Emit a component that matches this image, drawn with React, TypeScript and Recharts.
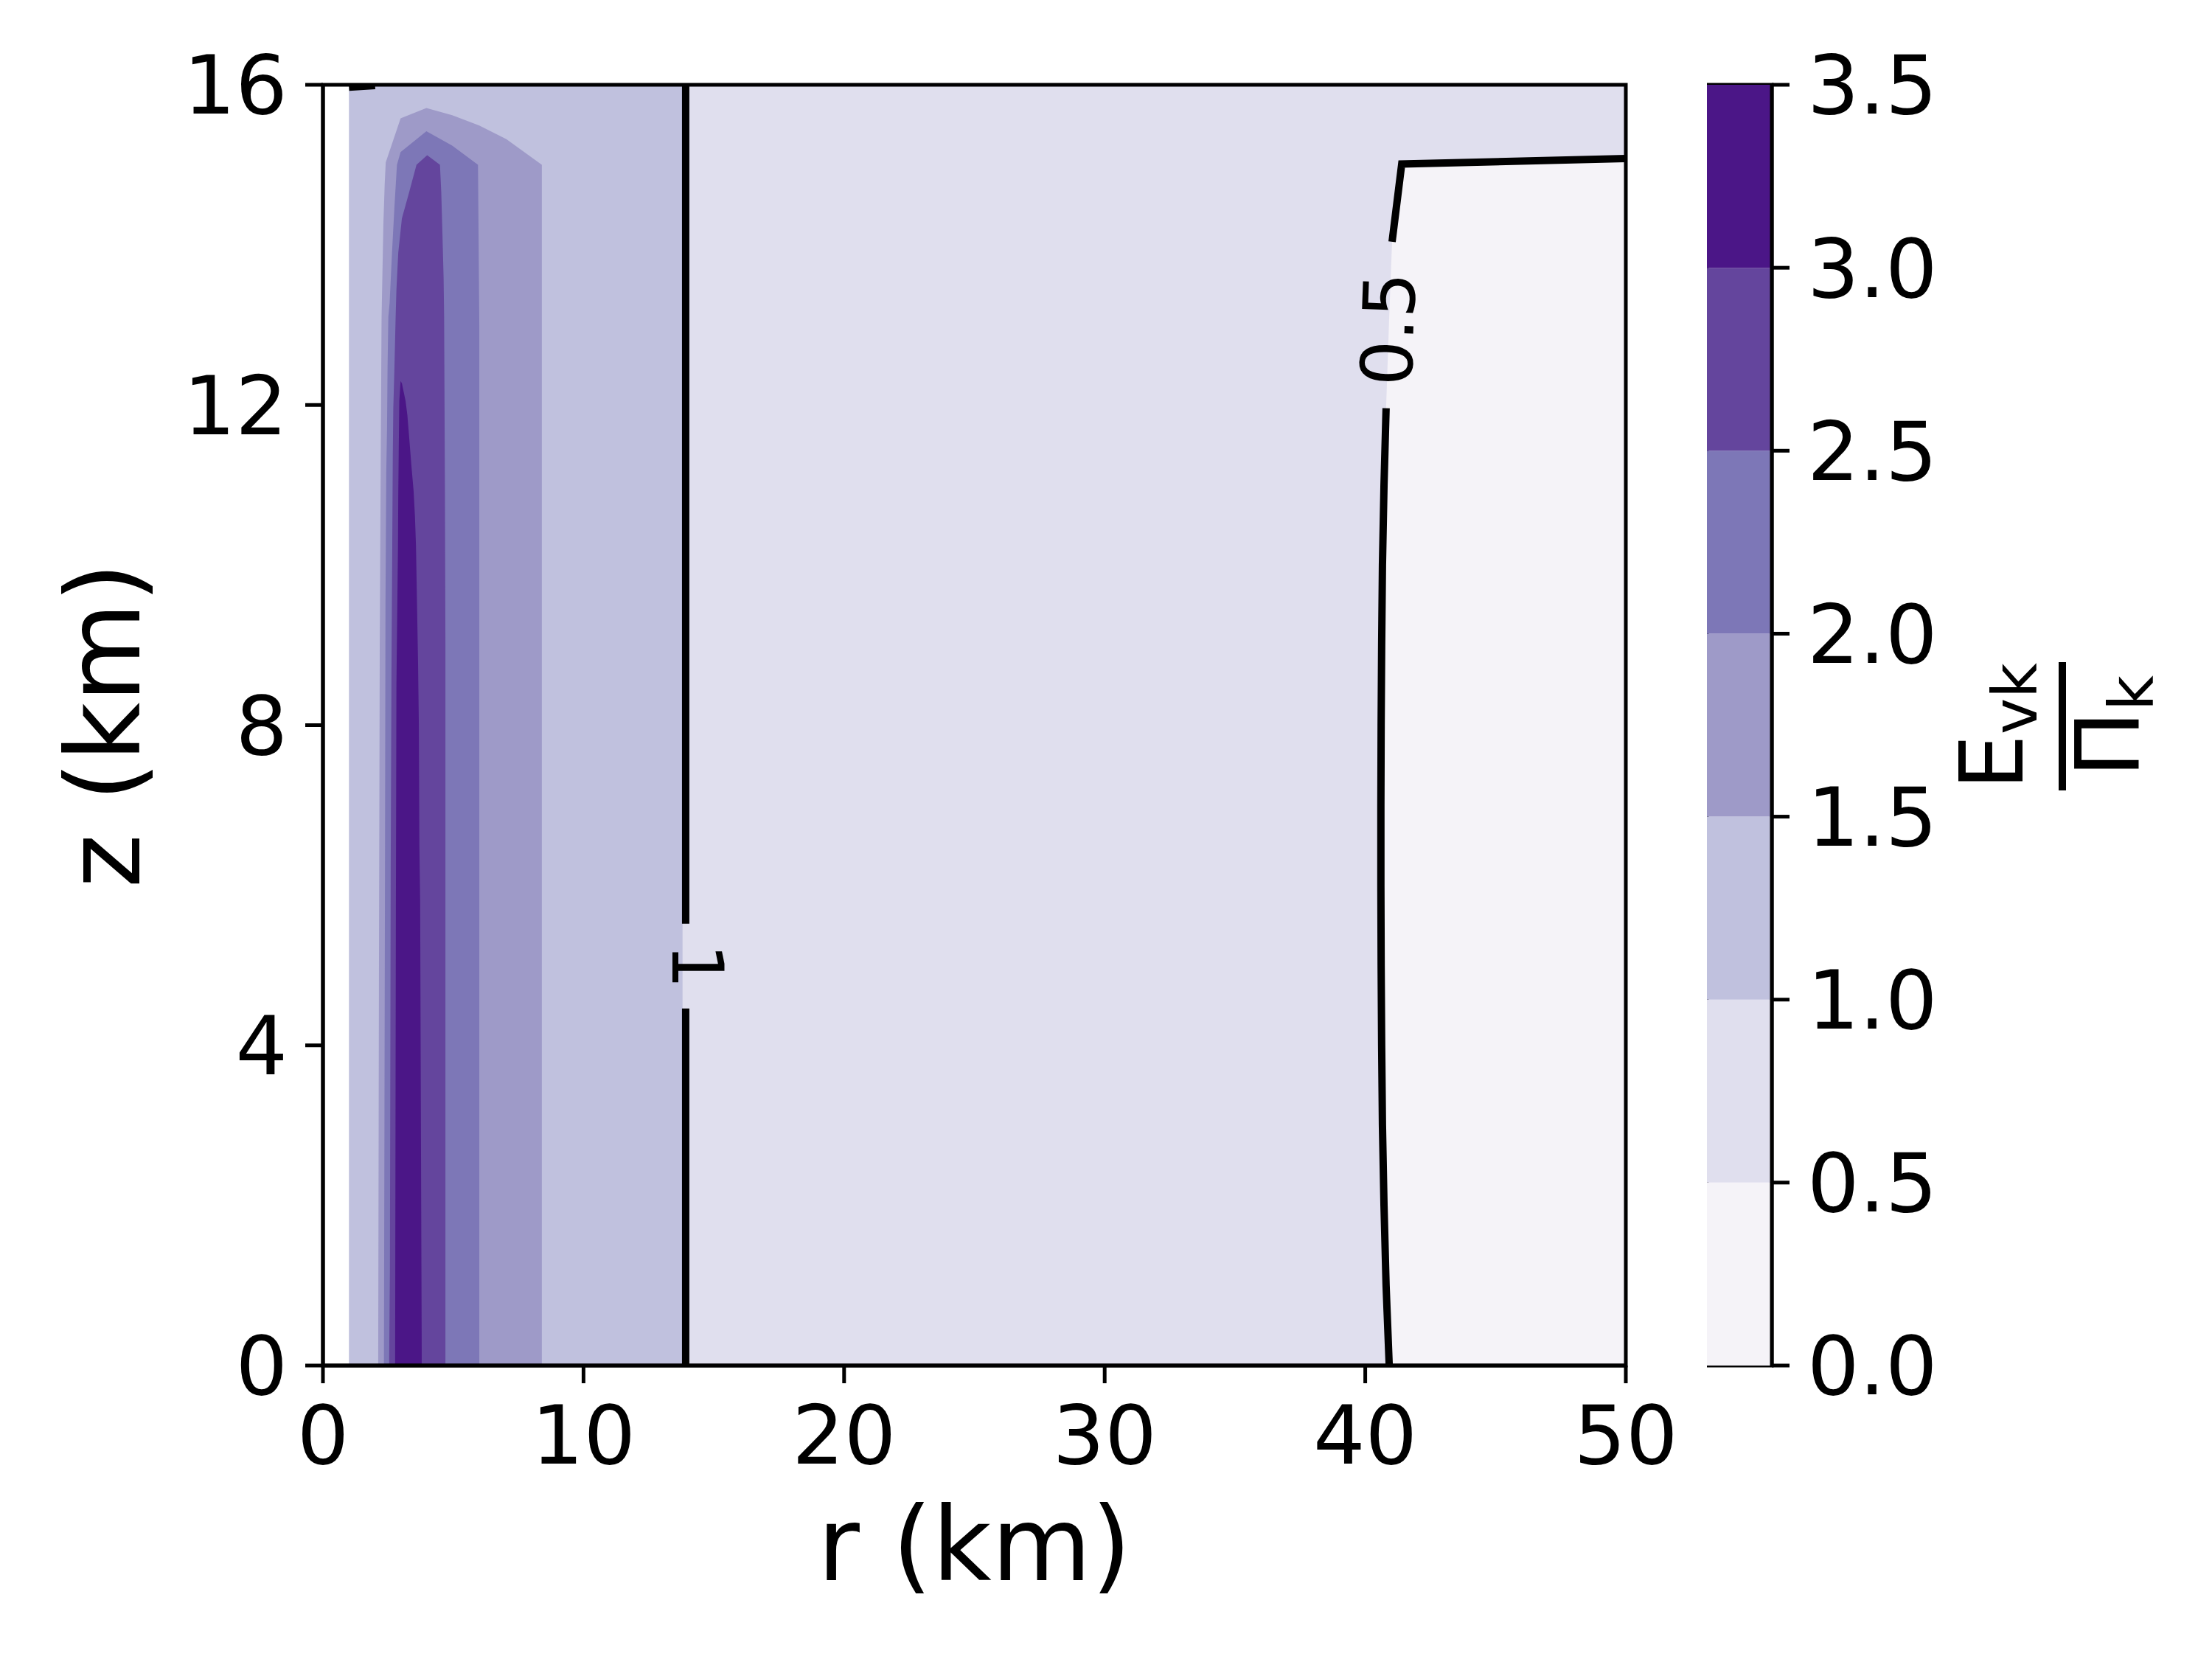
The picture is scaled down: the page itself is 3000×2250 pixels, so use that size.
import React from "react";
import {
  ComposedChart,
  BarChart,
  Area,
  Line,
  Bar,
  XAxis,
  YAxis,
  ReferenceArea,
  ReferenceDot,
} from "recharts";

const FONT = "DejaVu Sans";

const R_TICKS = [0, 10, 20, 30, 40, 50];
const Z_TICKS = [0, 4, 8, 12, 16];
const LEVELS = [0, 0.5, 1, 1.5, 2, 2.5, 3, 3.5];
const LEVEL_COLORS = ["#f5f3f8", "#e0dfee", "#c0c1de", "#9e9ac8", "#7d77b7", "#64459d", "#4b1687"];

// filled contour regions, outline of "value >= level" as z(r)
const FILL_GE_05 = [
  { r: 1, z: 16 },
  { r: 50, z: 16 },
];
// value < 0.5, given as z-range per r
const FILL_LT_05 = [
  { r: 40.6, z: [6, 7] },
  { r: 40.61, z: [5, 8] },
  { r: 40.63, z: [4, 9] },
  { r: 40.66, z: [3, 10] },
  { r: 40.72, z: [2, 11] },
  { r: 40.8, z: [1, 11.96] },
  { r: 40.92, z: [0, 13.1] },
  { r: 41.03, z: [0, 14.04] },
  { r: 41.4, z: [0, 15.01] },
  { r: 50, z: [0, 15.08] },
];
const FILL_GE_10 = [
  { r: 1, z: 16 },
  { r: 13.8, z: 16 },
];
const FILL_GE_15 = [
  { r: 2.12, z: 0 }, { r: 2.15, z: 5 }, { r: 2.18, z: 9 }, { r: 2.22, z: 11.5 },
  { r: 2.25, z: 13.1 }, { r: 2.28, z: 13.6 }, { r: 2.32, z: 14.27 }, { r: 2.37, z: 14.76 },
  { r: 2.41, z: 15.03 }, { r: 2.98, z: 15.58 }, { r: 3.97, z: 15.71 }, { r: 4.96, z: 15.62 },
  { r: 6.0, z: 15.49 }, { r: 7.04, z: 15.32 }, { r: 8.4, z: 15.0 }, { r: 8.4, z: 0 },
];
const FILL_GE_20 = [
  { r: 2.34, z: 0 }, { r: 2.38, z: 6 }, { r: 2.4, z: 9.5 }, { r: 2.43, z: 11.16 },
  { r: 2.46, z: 11.72 }, { r: 2.48, z: 12.48 }, { r: 2.51, z: 13.1 }, { r: 2.56, z: 13.28 },
  { r: 2.65, z: 13.9 }, { r: 2.75, z: 14.51 }, { r: 2.84, z: 15.0 }, { r: 2.98, z: 15.16 },
  { r: 3.97, z: 15.42 }, { r: 4.96, z: 15.24 }, { r: 5.95, z: 15.0 }, { r: 6.0, z: 13 },
  { r: 6.0, z: 0 },
];
const FILL_GE_25 = [
  { r: 2.54, z: 0 }, { r: 2.57, z: 1.2 }, { r: 2.6, z: 6.2 }, { r: 2.63, z: 8.7 },
  { r: 2.66, z: 10.24 }, { r: 2.68, z: 11.35 }, { r: 2.7, z: 11.96 }, { r: 2.74, z: 12.42 },
  { r: 2.79, z: 13.1 }, { r: 2.82, z: 13.44 }, { r: 2.89, z: 13.9 }, { r: 3.03, z: 14.33 },
  { r: 3.31, z: 14.66 }, { r: 3.59, z: 15.0 }, { r: 4.0, z: 15.12 }, { r: 4.49, z: 15.0 },
  { r: 4.54, z: 14.66 }, { r: 4.58, z: 14.2 }, { r: 4.63, z: 13.59 }, { r: 4.65, z: 13.1 },
  { r: 4.68, z: 11 }, { r: 4.7, z: 9 }, { r: 4.7, z: 0 },
];
const FILL_GE_30 = [
  { r: 2.77, z: 0 }, { r: 2.79, z: 4 }, { r: 2.8, z: 5.8 }, { r: 2.82, z: 8.5 },
  { r: 2.88, z: 10.24 }, { r: 2.89, z: 10.86 }, { r: 2.91, z: 11.47 }, { r: 2.93, z: 12.05 },
  { r: 2.98, z: 12.3 }, { r: 3.03, z: 12.27 }, { r: 3.17, z: 12.05 }, { r: 3.24, z: 11.87 },
  { r: 3.31, z: 11.59 }, { r: 3.4, z: 11.22 }, { r: 3.48, z: 10.92 }, { r: 3.53, z: 10.61 },
  { r: 3.57, z: 10.24 }, { r: 3.65, z: 8.77 }, { r: 3.68, z: 8.0 }, { r: 3.7, z: 6.5 },
  { r: 3.73, z: 5.8 }, { r: 3.77, z: 2 }, { r: 3.79, z: 0.2 }, { r: 3.79, z: 0 },
];

// contour lines (null = gap for the inline label)
const CONTOUR_1 = [
  { r: 13.92, z: 0 },
  { r: 13.92, z: 4.46 },
  { r: 13.92, z: null },
  { r: 13.92, z: 5.52 },
  { r: 13.92, z: 16 },
];
const CONTOUR_1_TOP = [
  { r: 1.0, z: 15.97 },
  { r: 2.0, z: 15.99 },
];
const CONTOUR_05 = [
  { r: 40.92, z: 0 }, { r: 40.8, z: 1 }, { r: 40.72, z: 2 }, { r: 40.66, z: 3 },
  { r: 40.63, z: 4 }, { r: 40.61, z: 5 }, { r: 40.6, z: 6 }, { r: 40.6, z: 7 },
  { r: 40.61, z: 8 }, { r: 40.63, z: 9 }, { r: 40.66, z: 10 }, { r: 40.72, z: 11 },
  { r: 40.8, z: 11.96 },
  { r: 40.9, z: null },
  { r: 41.03, z: 14.04 }, { r: 41.4, z: 15.01 }, { r: 50, z: 15.08 },
];
const CONTOUR_LABELS = [
  { r: 40.9, z: 12.95, text: "0.5", angle: -88 },
  { r: 14.35, z: 4.99, text: "1", angle: 90 },
];

const FILLS = [
  { data: FILL_GE_05, color: LEVEL_COLORS[1] },
  { data: FILL_LT_05, color: LEVEL_COLORS[0] },
  { data: FILL_GE_10, color: LEVEL_COLORS[2] },
  { data: FILL_GE_15, color: LEVEL_COLORS[3] },
  { data: FILL_GE_20, color: LEVEL_COLORS[4] },
  { data: FILL_GE_25, color: LEVEL_COLORS[5] },
  { data: FILL_GE_30, color: LEVEL_COLORS[6] },
];

const CB_ROW: Record<string, number | string> = { name: "cb" };
LEVEL_COLORS.forEach((_, i) => {
  CB_ROW["b" + i] = LEVELS[i + 1] - LEVELS[i];
});

const tickStyle = { fontSize: 111, fill: "#000", fontFamily: FONT };
const axisLineStyle = { stroke: "#000", strokeWidth: 5 };

const contourLabel = (text: string, angle: number) => (props: any) => {
  const vb = props.viewBox || {};
  const cx = vb.x + (vb.width || 0) / 2;
  const cy = vb.y + (vb.height || 0) / 2;
  return (
    <text
      x={cx}
      y={cy}
      textAnchor="middle"
      dominantBaseline="central"
      fontSize={97}
      fontFamily={FONT}
      fill="#000"
      transform={`rotate(${angle} ${cx} ${cy})`}
    >
      {text}
    </text>
  );
};

const XLabel = (props: any) => {
  const vb = props.viewBox;
  return (
    <text x={vb.x + vb.width / 2} y={vb.y + 291} textAnchor="middle" fontSize={139} fontFamily={FONT} fill="#000">
      r (km)
    </text>
  );
};

const YLabel = (props: any) => {
  const vb = props.viewBox;
  const cy = vb.y + vb.height / 2;
  return (
    <text x={189} y={cy} textAnchor="middle" fontSize={139} fontFamily={FONT} fill="#000" transform={`rotate(-90 189 ${cy})`}>
      z (km)
    </text>
  );
};

const CbLabel = (props: any) => {
  const vb = props.viewBox;
  const cx = vb.x + 394;
  const cy = 985;
  return (
    <g transform={`rotate(-90 ${cx} ${cy})`} fontFamily={FONT} fill="#000">
      <text x={cx} y={cy - 54} textAnchor="middle" fontSize={119}>
        E<tspan fontSize={83} dy={19}>vk</tspan>
      </text>
      <line x1={cx - 87} x2={cx + 87} y1={cy} y2={cy} stroke="#000" strokeWidth={10} />
      <text x={cx} y={cy + 103} textAnchor="middle" fontSize={120}>
        Π<tspan fontSize={83} dy={20}>k</tspan>
      </text>
    </g>
  );
};

export default function App() {
  return (
    <div style={{ position: "absolute", left: 0, top: 0, width: 3000, height: 2250, background: "#fff", fontFamily: FONT }}>
      <div style={{ position: "absolute", left: 0, top: 0 }}>
        <ComposedChart width={3000} height={2250} margin={{ top: 115, right: 795, bottom: 98, left: 0 }}>
          <XAxis
            type="number"
            dataKey="r"
            domain={[0, 50]}
            ticks={R_TICKS}
            interval={0}
            allowDataOverflow
            height={300}
            tick={tickStyle}
            tickSize={24}
            tickMargin={30}
            axisLine={axisLineStyle}
            tickLine={axisLineStyle}
            label={{ content: XLabel }}
          />
          <YAxis
            type="number"
            domain={[0, 16]}
            ticks={Z_TICKS}
            interval={0}
            allowDataOverflow
            width={438}
            tick={tickStyle}
            tickSize={24}
            tickMargin={24}
            axisLine={axisLineStyle}
            tickLine={axisLineStyle}
            label={{ content: YLabel }}
          />
          {FILLS.map((f, i) => (
            <Area
              key={i}
              data={f.data}
              dataKey="z"
              type="linear"
              fill={f.color}
              fillOpacity={1}
              stroke="none"
              dot={false}
              activeDot={false}
              isAnimationActive={false}
            />
          ))}
          {[CONTOUR_1, CONTOUR_1_TOP, CONTOUR_05].map((c, i) => (
            <Line
              key={"c" + i}
              data={c}
              dataKey="z"
              type="linear"
              stroke="#000"
              strokeWidth={10}
              dot={false}
              activeDot={false}
              connectNulls={false}
              isAnimationActive={false}
            />
          ))}
          {CONTOUR_LABELS.map((l, i) => (
            <ReferenceDot
              key={"l" + i}
              x={l.r}
              y={l.z}
              r={1}
              fill="none"
              stroke="none"
              label={{ content: contourLabel(l.text, l.angle) }}
            />
          ))}
          <ReferenceArea y1={0} y2={16} fill="none" stroke="#000" strokeWidth={5} fillOpacity={0} />
        </ComposedChart>
      </div>
      <div style={{ position: "absolute", left: 2315, top: 0 }}>
        <BarChart
          width={700}
          height={2250}
          data={[CB_ROW]}
          margin={{ top: 115, right: 0, bottom: 398, left: 0 }}
          barCategoryGap={0}
        >
          <XAxis dataKey="name" type="category" hide />
          <YAxis
            orientation="right"
            type="number"
            domain={[0, 3.5]}
            ticks={LEVELS}
            interval={0}
            width={612}
            tick={tickStyle}
            tickSize={24}
            tickMargin={24}
            tickFormatter={(v: number) => v.toFixed(1)}
            axisLine={axisLineStyle}
            tickLine={axisLineStyle}
            label={{ content: CbLabel }}
          />
          {LEVEL_COLORS.map((c, i) => (
            <Bar key={i} dataKey={"b" + i} stackId="cb" fill={c} isAnimationActive={false} />
          ))}
          <ReferenceArea y1={0} y2={3.5} fill="none" stroke="#000" strokeWidth={5} fillOpacity={0} />
        </BarChart>
      </div>
    </div>
  );
}
